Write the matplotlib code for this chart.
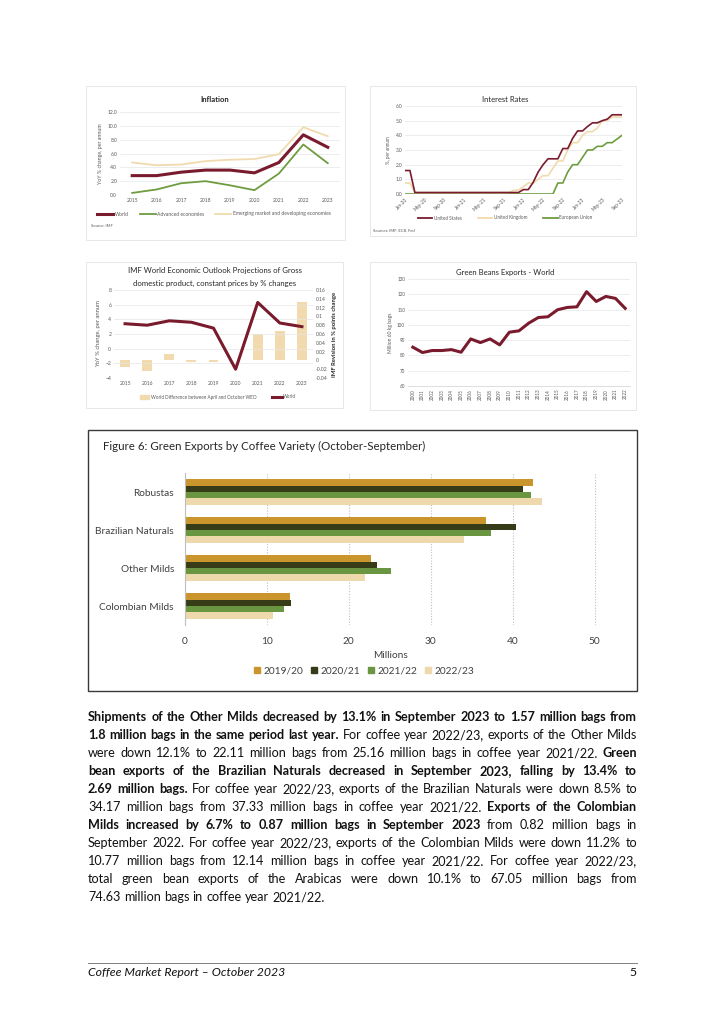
import matplotlib
matplotlib.use('Agg')
import matplotlib.pyplot as plt
from matplotlib.patches import Rectangle, Patch
from matplotlib.lines import Line2D

W, H = 724, 1024
plt.rcParams['font.family'] = ['Lato', 'DejaVu Sans']

MAROON = '#7A1B2D'
GREEN = '#6E9C3F'
BEIGE = '#F1DBAE'
GREY = '#595959'

# Inflation (YoY %)
infl_years = ['2015', '2016', '2017', '2018', '2019', '2020', '2021', '2022', '2023']
infl_world = [2.8, 2.8, 3.3, 3.6, 3.6, 3.2, 4.7, 8.7, 6.9]
infl_advanced = [0.3, 0.8, 1.7, 2.0, 1.4, 0.7, 3.1, 7.3, 4.6]
infl_emerging = [4.7, 4.3, 4.4, 4.9, 5.1, 5.2, 5.9, 9.8, 8.5]

# Interest rates, monthly Jan-20 .. Sep-23
rate_ticks = ['Jan-20', 'May-20', 'Sep-20', 'Jan-21', 'May-21', 'Sep-21',
              'Jan-22', 'May-22', 'Sep-22', 'Jan-23', 'May-23', 'Sep-23']
rate_us = [1.6, 1.6, 0.1, 0.1, 0.1, 0.1, 0.1, 0.1, 0.1, 0.1, 0.1, 0.1,
           0.1, 0.1, 0.1, 0.1, 0.1, 0.1, 0.1, 0.1, 0.1, 0.1, 0.1, 0.1,
           0.3, 0.3, 0.8, 1.5, 2.0, 2.4, 2.4, 2.4, 3.1, 3.1, 3.8, 4.3,
           4.3, 4.6, 4.85, 4.85, 5.0, 5.1, 5.4, 5.4, 5.4]
rate_uk = [0.75, 0.75, 0.1, 0.1, 0.1, 0.1, 0.1, 0.1, 0.1, 0.1, 0.1, 0.1,
           0.1, 0.1, 0.1, 0.1, 0.1, 0.1, 0.1, 0.1, 0.1, 0.1, 0.25, 0.25,
           0.5, 0.75, 0.75, 1.0, 1.25, 1.25, 1.75, 2.25, 2.25, 3.0, 3.5, 3.5,
           4.0, 4.25, 4.25, 4.5, 5.0, 5.0, 5.25, 5.25, 5.25]
rate_eu = [0.0, 0.0, 0.0, 0.0, 0.0, 0.0, 0.0, 0.0, 0.0, 0.0, 0.0, 0.0,
           0.0, 0.0, 0.0, 0.0, 0.0, 0.0, 0.0, 0.0, 0.0, 0.0, 0.0, 0.0,
           0.0, 0.0, 0.0, 0.0, 0.0, 0.0, 0.0, 0.75, 0.75, 1.5, 2.0, 2.0,
           2.5, 3.0, 3.0, 3.25, 3.25, 3.5, 3.5, 3.75, 4.0]

# IMF WEO GDP projections
gdp_years = ['2015', '2016', '2017', '2018', '2019', '2020', '2021', '2022', '2023']
gdp_world = [3.4, 3.2, 3.8, 3.6, 2.8, -2.8, 6.3, 3.5, 3.0]
gdp_revision = [-0.016, -0.024, 0.014, -0.004, -0.004, 0.0, 0.061, 0.067, 0.133]

# Green beans exports - world (million 60 kg bags)
exp_years = ['2000', '2001', '2002', '2003', '2004', '2005', '2006', '2007',
             '2008', '2009', '2010', '2011', '2012', '2013', '2014', '2015',
             '2016', '2017', '2018', '2019', '2020', '2021', '2022']
exp_world = [85.4, 81.9, 83.2, 83.2, 83.8, 82.1, 90.8, 88.4, 90.8, 86.9, 95.2,
             96.1, 101.1, 104.8, 105.3, 109.9, 111.4, 111.8, 121.7, 115.3,
             118.6, 117.3, 110.8]

# Figure 6: green exports by coffee variety (millions of bags)
varieties = ['Colombian Milds', 'Other Milds', 'Brazilian Naturals', 'Robustas']
seasons = ['2019/20', '2020/21', '2021/22', '2022/23']
exp_1920 = [12.8, 22.7, 36.7, 42.5]
exp_2021 = [13.0, 23.4, 40.4, 41.3]
exp_2122 = [12.1, 25.2, 37.3, 42.3]
exp_2223 = [10.8, 22.0, 34.1, 43.6]
million_ticks = [0, 10, 20, 30, 40, 50]
season_colors = ['#C9952C', '#353C17', '#6A9541', '#EED9AC']

paragraph = [
    ([("Shipments of the Other Milds decreased by 13.1% in September 2023 to 1.57 million bags from", True)], True),
    ([("1.8 million bags in the same period last year.", True),
      ("For coffee year 2022/23, exports of the Other Milds", False)], True),
    ([("were down 12.1% to 22.11 million bags from 25.16 million bags in coffee year 2021/22.", False),
      ("Green", True)], True),
    ([("bean exports of the Brazilian Naturals decreased in September 2023, falling by 13.4% to", True)], True),
    ([("2.69 million bags.", True),
      ("For coffee year 2022/23, exports of the Brazilian Naturals were down 8.5% to", False)], True),
    ([("34.17 million bags from 37.33 million bags in coffee year 2021/22.", False),
      ("Exports of the Colombian", True)], True),
    ([("Milds increased by 6.7% to 0.87 million bags in September 2023", True),
      ("from 0.82 million bags in", False)], True),
    ([("September 2022. For coffee year 2022/23, exports of the Colombian Milds were down 11.2% to", False)], True),
    ([("10.77 million bags from 12.14 million bags in coffee year 2021/22. For coffee year 2022/23,", False)], True),
    ([("total green bean exports of the Arabicas were down 10.1% to 67.05 million bags from", False)], True),
    ([("74.63 million bags in coffee year 2021/22.", False)], False),
]


def px_axes(fig, x0, y0, x1, y1):
    return fig.add_axes([x0 / W, 1 - y1 / H, (x1 - x0) / W, (y1 - y0) / H])


def px_text(fig, x, y, s, **kw):
    return fig.text(x / W, 1 - y / H, s, **kw)


def px_frame(fig, x0, y0, x1, y1, color='#E3E3E3', lw=0.6):
    fig.add_artist(Rectangle((x0 / W, 1 - y1 / H), (x1 - x0) / W, (y1 - y0) / H,
                             transform=fig.transFigure, fill=False,
                             edgecolor=color, linewidth=lw))


def small_style(ax, size=3.6):
    for s in ax.spines.values():
        s.set_visible(False)
    ax.spines['bottom'].set_visible(True)
    ax.spines['bottom'].set_color('#D0D0D0')
    ax.spines['bottom'].set_linewidth(0.5)
    ax.tick_params(length=0, labelsize=size, colors=GREY, pad=2)
    ax.grid(axis='y', color='#E6E6E6', linewidth=0.5)
    ax.set_axisbelow(True)


fig = plt.figure(figsize=(W / 100, H / 100), dpi=100)

# ---- Inflation
px_frame(fig, 86, 86, 345, 240)
ax = px_axes(fig, 120, 112, 340, 195)
x = range(len(infl_years))
ax.plot(x, infl_emerging, color=BEIGE, lw=1.3)
ax.plot(x, infl_advanced, color=GREEN, lw=1.3)
ax.plot(x, infl_world, color=MAROON, lw=2.2)
ax.set_xlim(-0.5, len(infl_years) - 0.5)
ax.set_ylim(0, 12)
ax.set_yticks([0, 2, 4, 6, 8, 10, 12])
ax.set_yticklabels(['%.1f' % v for v in [0, 2, 4, 6, 8, 10, 12]])
ax.set_xticks(list(x))
ax.set_xticklabels(infl_years)
small_style(ax)
ax.spines['bottom'].set_visible(False)
ax.set_ylabel('YoY % change, per annum', fontsize=3.8, color=GREY, labelpad=3)
px_text(fig, 215, 99, 'Inflation', fontsize=5.5, ha='center', va='center',
        color='#262626', fontweight='bold')
fig.legend([Line2D([], [], color=MAROON, lw=2.2), Line2D([], [], color=GREEN, lw=1.3),
            Line2D([], [], color=BEIGE, lw=1.3)],
           ['World', 'Advanced economies', 'Emerging market and developing economies'],
           loc='center', bbox_to_anchor=(214 / W, 1 - 214 / H), ncol=3, frameon=False,
           fontsize=3.6, handlelength=3.2, handletextpad=0.3, columnspacing=2.2,
           labelcolor=GREY)
px_text(fig, 91, 226, 'Source: IMF', fontsize=3, color=GREY, va='center')

# ---- Interest rates
px_frame(fig, 370, 86, 636, 236)
ax = px_axes(fig, 405, 106, 622, 194)
xr = range(len(rate_us))
ax.plot(xr, rate_eu, color=GREEN, lw=1.2)
ax.plot(xr, rate_uk, color=BEIGE, lw=1.2)
ax.plot(xr, rate_us, color=MAROON, lw=1.2)
ax.set_xlim(0, len(rate_us) - 1)
ax.set_ylim(0, 6)
ax.set_yticks([0, 1, 2, 3, 4, 5, 6])
ax.set_yticklabels(['%.1f' % v for v in [0, 1, 2, 3, 4, 5, 6]])
ax.set_xticks(range(0, len(rate_us), 4))
ax.set_xticklabels(rate_ticks, rotation=45, ha='right', rotation_mode='anchor')
small_style(ax, 3.4)
ax.spines['bottom'].set_visible(False)
ax.set_ylabel('%, per annum', fontsize=3.3, color=GREY, labelpad=3)
px_text(fig, 505, 99, 'Interest Rates', fontsize=5.5, ha='center', va='center',
        color='#262626')
fig.legend([Line2D([], [], color=MAROON, lw=1.3), Line2D([], [], color=BEIGE, lw=1.3),
            Line2D([], [], color=GREEN, lw=1.3)],
           ['United States', 'United Kingdom', 'European Union'],
           loc='center', bbox_to_anchor=(505 / W, 1 - 218 / H), ncol=3, frameon=False,
           fontsize=3.3, handlelength=3.2, handletextpad=0.3, columnspacing=3.5,
           labelcolor=GREY)
px_text(fig, 373, 230, 'Sources: IMF, ECB, Fed', fontsize=3, color=GREY, va='center')

# ---- GDP projections
px_frame(fig, 86, 262, 343, 408)
ax = px_axes(fig, 114, 290, 313, 378)
ax2 = ax.twinx()
xg = range(len(gdp_years))
ax2.bar(xg, gdp_revision, width=0.45, color=BEIGE)
ax.plot(xg, gdp_world, color=MAROON, lw=2.2)
ax.set_zorder(ax2.get_zorder() + 1)
ax.patch.set_visible(False)
ax.set_xlim(-0.5, len(gdp_years) - 0.5)
ax.set_ylim(-4, 8)
ax.set_yticks([-4, -2, 0, 2, 4, 6, 8])
ax2.set_ylim(-0.04, 0.16)
ax2.set_yticks([-0.04, -0.02, 0, 0.02, 0.04, 0.06, 0.08, 0.1, 0.12, 0.14, 0.16])
ax2.set_yticklabels(['-0.04', '-0.02', '0', '0.02', '0.04', '0.06', '0.08', '0.1',
                     '0.12', '0.14', '0.16'])
ax.set_xticks(list(xg))
ax.set_xticklabels(gdp_years)
small_style(ax, 3.6)
ax.spines['bottom'].set_visible(False)
for s in ax2.spines.values():
    s.set_visible(False)
ax2.tick_params(length=0, labelsize=3.6, colors=GREY, pad=2)
ax.set_ylabel('YoY % change, per annum', fontsize=4.2, color=GREY, labelpad=3)
ax2.set_ylabel('IMF Revision in % points change', fontsize=4.2, color='#262626',
               fontweight='bold', rotation=90, labelpad=3)
px_text(fig, 215, 271, 'IMF World Economic Outlook Projections of Gross',
        fontsize=5.6, ha='center', va='center', color='#262626')
px_text(fig, 215, 283, 'domestic product, constant prices by % changes',
        fontsize=5.6, ha='center', va='center', color='#262626')
fig.legend([Patch(color=BEIGE), Line2D([], [], color=MAROON, lw=2.2)],
           ['World Difference between April and October WEO', 'World'],
           loc='center', bbox_to_anchor=(218 / W, 1 - 397 / H), ncol=2, frameon=False,
           fontsize=3.3, handlelength=2.0, handleheight=0.8, handletextpad=0.4,
           columnspacing=3.5, labelcolor=GREY)

# ---- Green beans exports
px_frame(fig, 370, 262, 636, 410)
ax = px_axes(fig, 408, 279, 630, 386)
xe = range(len(exp_years))
ax.plot(xe, exp_world, color=MAROON, lw=2.2)
ax.set_xlim(-0.5, len(exp_years) - 0.5)
ax.set_ylim(60, 130)
ax.set_yticks(range(60, 131, 10))
ax.set_xticks(list(xe))
ax.set_xticklabels(exp_years, rotation=90)
small_style(ax, 3.3)
ax.set_ylabel('Million 60 kg bags', fontsize=3.6, color=GREY, labelpad=3)
px_text(fig, 505, 273, 'Green Beans Exports - World', fontsize=5.5, ha='center',
        va='center', color='#262626')

# ---- Figure 6
px_frame(fig, 88, 430, 637, 691, color='#3A3A3A', lw=1.0)
px_text(fig, 103, 446, 'Figure 6: Green Exports by Coffee Variety (October-September)',
        fontsize=8.3, va='center', color='#262626')
ax = px_axes(fig, 185, 473, 597, 625)
bh = 0.17
yc = range(len(varieties))
for k, (vals, col) in enumerate(zip([exp_1920, exp_2021, exp_2122, exp_2223],
                                    season_colors)):
    ax.barh([c + (1.5 - k) * bh for c in yc], vals, height=bh, color=col,
            label=seasons[k])
ax.set_xlim(0, 50.3)
ax.set_ylim(-0.5, len(varieties) - 0.5)
ax.set_yticks(list(yc))
ax.set_yticklabels(varieties)
ax.set_xticks(million_ticks)
ax.set_xticklabels([str(v) for v in million_ticks])
for s in ['top', 'right', 'bottom']:
    ax.spines[s].set_visible(False)
ax.spines['left'].set_color('#BFBFBF')
ax.spines['left'].set_linewidth(0.8)
ax.grid(axis='x', color='#BFBFBF', linestyle=(0, (1, 1.5)), linewidth=0.8)
ax.set_axisbelow(True)
ax.tick_params(length=0, labelsize=7.3, colors='#404040')
ax.tick_params(axis='y', pad=8)
ax.tick_params(axis='x', pad=9)
ax.set_xlabel('Millions', fontsize=7.3, color='#404040', labelpad=3)
fig.legend([Patch(color=c) for c in season_colors], seasons, loc='center',
           bbox_to_anchor=(364 / W, 1 - 671 / H), ncol=4, frameon=False,
           fontsize=7.3, handlelength=0.6, handleheight=0.6, handletextpad=0.3,
           columnspacing=0.8, labelcolor='#404040')

# ---- Body paragraph, justified
renderer = fig.canvas.get_renderer()
left, right = 88, 637
avail = right - left
base = 9.6
rows = []
for segments, justify in paragraph:
    objs = []
    for text, bold in segments:
        for w in text.split():
            objs.append(fig.text(0, 0, w, fontsize=base, va='baseline',
                                 fontweight='bold' if bold else 'normal',
                                 color='#111111'))
    rows.append((objs, justify))

space = 0.26 * base * 100 / 72
worst = 1.0
for objs, justify in rows:
    widths = sum(t.get_window_extent(renderer).width for t in objs)
    natural = widths + space * (len(objs) - 1)
    worst = max(worst, natural / avail)
size = base / worst
space = 0.26 * size * 100 / 72

for i, (objs, justify) in enumerate(rows):
    for t in objs:
        t.set_fontsize(size)
    widths = [t.get_window_extent(renderer).width for t in objs]
    if justify and len(objs) > 1:
        gap = (avail - sum(widths)) / (len(objs) - 1)
    else:
        gap = space
    xpos = left
    ybase = 721 + 18 * i
    for t, w in zip(objs, widths):
        t.set_position((xpos / W, 1 - ybase / H))
        xpos += w + gap

# ---- Footer
fig.add_artist(Line2D([88 / W, 637 / W], [1 - 963 / H, 1 - 963 / H],
                      transform=fig.transFigure, color='#7F7F7F', lw=0.7))
px_text(fig, 88, 976, 'Coffee Market Report \u2013 October 2023', fontsize=8.8,
        style='italic', va='baseline', color='#111111')
px_text(fig, 637, 976, '5', fontsize=8.8, ha='right', va='baseline', color='#111111')

fig.savefig('out.png', dpi=100, facecolor='white')
